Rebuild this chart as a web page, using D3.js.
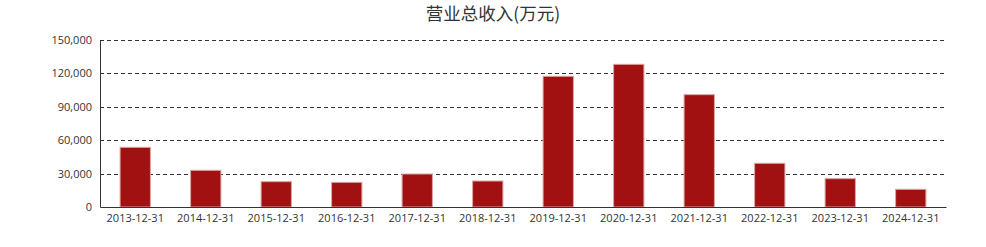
<!DOCTYPE html>
<html>
<head>
<meta charset="utf-8">
<script src="https://cdn.jsdelivr.net/npm/d3@7"></script>
<style>
  body { margin: 0; background: #fff; }
  .chart text { fill: #333; }
</style>
</head>
<body>
<div class="chart"></div>
<script>
// chart data
var years = ["2013-12-31", "2014-12-31", "2015-12-31", "2016-12-31", "2017-12-31", "2018-12-31",
             "2019-12-31", "2020-12-31", "2021-12-31", "2022-12-31", "2023-12-31", "2024-12-31"];
var revenue = [53600, 32950, 22750, 22150, 29650, 23350, 117400, 128150, 100900, 39250, 25450, 15900];
var yTicks = [0, 30000, 60000, 90000, 120000, 150000];
var title = "营业总收入(万元)";

var svgWidth = 986;
var svgHeight = 247;
var margin = { top: 40, right: 40, bottom: 40, left: 100 };

var width = svgWidth - margin.left - margin.right;
var height = svgHeight - margin.top - margin.bottom;

var svg = d3.select(".chart")
  .append("svg")
  .attr("width", svgWidth)
  .attr("height", svgHeight);

var chart = svg.append("g")
  .attr("transform", "translate(" + margin.left + "," + margin.top + ")");

var xScale = d3.scaleBand().domain(years).range([0, width]).paddingInner(0.57).paddingOuter(0.285);
var yScale = d3.scaleLinear().domain([0, 150000]).range([height, 0]);

// dashed grid lines
chart.selectAll(".grid")
  .data(yTicks.filter(function(d) { return d > 0; }))
  .enter()
  .append("line")
  .attr("x1", 0)
  .attr("x2", width)
  .attr("y1", function(d) { return Math.round(yScale(d)) + 0.5; })
  .attr("y2", function(d) { return Math.round(yScale(d)) + 0.5; })
  .attr("stroke", "#333")
  .attr("stroke-dasharray", "4,3");

// bars
chart.selectAll("rect")
  .data(revenue)
  .enter()
  .append("rect")
  .attr("x", function(d, i) { return xScale(years[i]); })
  .attr("y", function(d) { return yScale(d); })
  .attr("width", xScale.bandwidth())
  .attr("height", function(d) { return height - yScale(d); })
  .attr("fill", "#a11111")
  .attr("stroke", "#dba3a3")
  .attr("stroke-width", 1);

// axes
var bottomAxis = d3.axisBottom(xScale).tickSize(0).tickPadding(7);
var leftAxis = d3.axisLeft(yScale).tickValues(yTicks).tickSize(0).tickPadding(8)
  .tickFormat(d3.format(","));

var xg = chart.append("g")
  .attr("transform", "translate(0," + height + ")")
  .call(bottomAxis);
var yg = chart.append("g").call(leftAxis);

[xg, yg].forEach(function(g) {
  g.select(".domain").attr("stroke", "#333");
  g.selectAll("text")
    .style("font-family", "'Open Sans', 'Noto Sans', sans-serif")
    .style("font-size", "11px")
    .attr("fill", "#333");
});

// title
svg.append("text")
  .attr("x", svgWidth / 2)
  .attr("y", 20)
  .style("text-anchor", "middle")
  .style("font-family", "'Noto Sans CJK SC', sans-serif")
  .style("font-size", "17.5px")
  .text(title);
</script>
</body>
</html>
